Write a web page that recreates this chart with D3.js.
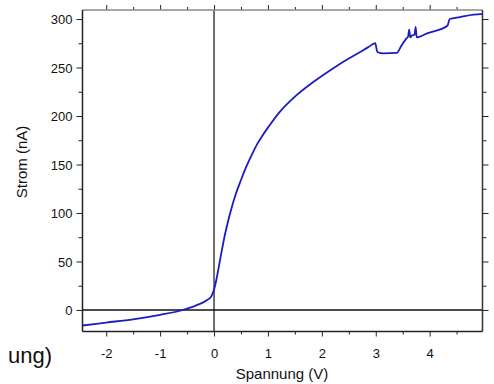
<!DOCTYPE html>
<html>
<head>
<meta charset="utf-8">
<script src="https://cdn.jsdelivr.net/npm/d3@7"></script>
<style>
  body { margin: 0; background: #fff; }
  svg { display: block; font-family: "Liberation Sans", Arial, sans-serif; }
</style>
</head>
<body>
<div id="wrapper"></div>
<script>
// I-V Kennlinie, values
const voltage = [-2.44, -2.0, -1.5, -1.0, -0.63, -0.32, -0.12, -0.05, 0.0, 0.05, 0.1, 0.15, 0.2, 0.3, 0.4,
    0.5, 0.6, 0.7, 0.8, 0.9, 1.0, 1.2, 1.5, 1.84, 2.15, 2.46, 2.71, 2.86, 2.99, 3.03, 3.14, 3.39, 3.48,
    3.57, 3.60, 3.62, 3.64, 3.67, 3.72, 3.74, 3.76, 3.94, 4.33, 4.37, 4.56, 4.94, 4.98]
const current = [-16, -13, -9.6, -5, -0.8, 5, 10.5, 14, 21, 33, 48, 63, 77, 100, 119,
    134, 148, 160, 171, 180, 188, 203, 220, 235, 247, 258, 266, 271, 275, 266, 264.5, 265, 273,
    280, 282, 289, 281, 283, 284, 292, 281, 285, 293, 300, 302, 305, 305]
const xTicks = [-2, -1, 0, 1, 2, 3, 4]
const yTicks = [0, 50, 100, 150, 200, 250, 300]
const xMinor = [-1.5, -0.5, 0.5, 1.5, 2.5, 3.5, 4.5]
const yMinor = [25, 75, 125, 175, 225, 275]

const data = voltage.map((v, i) => ({ v: v, i: current[i] }))

let dimensions = {
    width: 494,
    height: 384,
    margin: { top: 10, right: 11.5, bottom: 52.5, left: 82.5 }
}
dimensions.boundedWidth = dimensions.width - dimensions.margin.left - dimensions.margin.right
dimensions.boundedHeight = dimensions.height - dimensions.margin.top - dimensions.margin.bottom

const svg = d3.select('#wrapper').append('svg')
    .attr('width', dimensions.width)
    .attr('height', dimensions.height)

const bounds = svg.append('g')
    .attr('transform', `translate(${dimensions.margin.left}, ${dimensions.margin.top})`)

const xScale = d3.scaleLinear()
    .domain([-2.44, 4.98])
    .range([0, dimensions.boundedWidth])

const yScale = d3.scaleLinear()
    .domain([-22.2, 309.3])
    .range([dimensions.boundedHeight, 0])

const fmt = d => String(d)

// minor ticks first, majors on top
function addAxis (gen, transform, ticks, size, labels) {
    const g = bounds.append('g')
        .attr('transform', transform)
        .call(gen.tickValues(ticks).tickSize(size).tickSizeOuter(0).tickFormat(labels ? fmt : ''))
    g.select('.domain').remove()
    g.selectAll('line').attr('stroke', '#222').attr('stroke-width', 1)
    g.selectAll('text').attr('fill', '#111').style('font-size', '13px')
        .style('font-family', '"Liberation Sans", Arial, sans-serif')
    return g
}

const bottomT = `translate(0, ${dimensions.boundedHeight})`
const rightT = `translate(${dimensions.boundedWidth}, 0)`

addAxis(d3.axisBottom(xScale), bottomT, xMinor, 3, false)
addAxis(d3.axisTop(xScale), 'translate(0,0)', xMinor, 3, false)
addAxis(d3.axisLeft(yScale), 'translate(0,0)', yMinor, 4, false)
addAxis(d3.axisRight(yScale), rightT, yMinor, 4, false)

const xAxis = addAxis(d3.axisBottom(xScale), bottomT, xTicks, 5, true)
xAxis.selectAll('text').attr('dy', '1.45em')
addAxis(d3.axisTop(xScale), 'translate(0,0)', xTicks, 5, false)
const yAxis = addAxis(d3.axisLeft(yScale), 'translate(0,0)', yTicks, 6, true)
yAxis.selectAll('text').attr('x', -10).attr('dy', '0.36em')
addAxis(d3.axisRight(yScale), rightT, yTicks, 6, false)

// zero lines
bounds.append('line')
    .attr('x1', 0).attr('x2', dimensions.boundedWidth)
    .attr('y1', yScale(0)).attr('y2', yScale(0))
    .attr('stroke', '#111').attr('stroke-width', 1.6)
bounds.append('line')
    .attr('x1', xScale(0)).attr('x2', xScale(0))
    .attr('y1', 0).attr('y2', dimensions.boundedHeight)
    .attr('stroke', '#111').attr('stroke-width', 1.2)

// frame
bounds.append('line').attr('x1', 0).attr('x2', dimensions.boundedWidth).attr('y1', 0).attr('y2', 0)
    .attr('stroke', '#8a8a8a').attr('stroke-width', 1.5)
bounds.append('line').attr('x1', 0).attr('x2', dimensions.boundedWidth)
    .attr('y1', dimensions.boundedHeight).attr('y2', dimensions.boundedHeight)
    .attr('stroke', '#222').attr('stroke-width', 1.5)
bounds.append('line').attr('x1', 0).attr('x2', 0).attr('y1', 0).attr('y2', dimensions.boundedHeight)
    .attr('stroke', '#222').attr('stroke-width', 1.5)
bounds.append('line').attr('x1', dimensions.boundedWidth).attr('x2', dimensions.boundedWidth)
    .attr('y1', 0).attr('y2', dimensions.boundedHeight)
    .attr('stroke', '#333').attr('stroke-width', 1.5)

// curve
const lineGenerator = d3.line()
    .x(d => xScale(d.v))
    .y(d => yScale(d.i))
    .curve(d3.curveMonotoneX)

bounds.append('path')
    .attr('d', lineGenerator(data))
    .attr('fill', 'none')
    .attr('stroke', '#1c1cc4')
    .attr('stroke-width', 1.8)
    .attr('stroke-linejoin', 'round')

// axis titles
svg.append('text')
    .attr('x', 282).attr('y', 379)
    .attr('text-anchor', 'middle')
    .style('font-size', '15px').attr('fill', '#111')
    .text('Spannung (V)')

svg.append('text')
    .attr('transform', 'translate(27, 162) rotate(-90)')
    .attr('text-anchor', 'middle')
    .style('font-size', '15px').attr('fill', '#111')
    .text('Strom (nA)')

// leftover label cut at the left edge
svg.append('text')
    .attr('x', 52).attr('y', 363)
    .attr('text-anchor', 'end')
    .style('font-size', '22px').attr('fill', '#111')
    .text('ung)')
</script>
</body>
</html>
